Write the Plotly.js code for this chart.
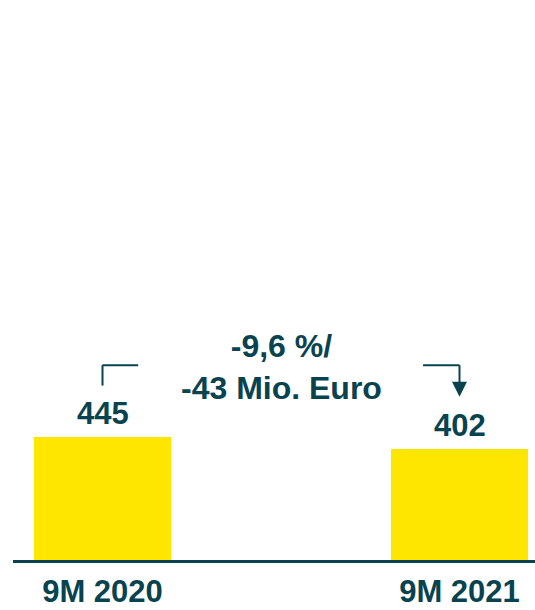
<!DOCTYPE html>
<html>
<head>
<meta charset="utf-8">
<script src="https://cdn.plot.ly/plotly-3.0.1.min.js"></script>
<style>
html,body{margin:0;padding:0;background:#fff;}
#chart{width:535px;height:610px;}
</style>
</head>
<body>
<div id="chart"></div>
<script>
const categories = ["9M 2020", "9M 2021"];
const values = [445, 402];
const valueLabels = ["445", "402"];
const changeText = ["-9,6 %/", "-43 Mio. Euro"];

const dark = "#08434f";
const yellow = "#FFE600";
const font = "Liberation Sans, Arial, sans-serif";

const xIdx = categories.map((c, i) => i);

// bracket levels (data units)
const bracketTop = 705;
const leftBracketBottom = 631;
const arrowTip = 591;

const trace = {
  type: "bar",
  x: xIdx,
  y: values,
  width: 0.384,
  marker: {color: yellow},
  hoverinfo: "skip"
};

const annotations = values.map((v, i) => ({
  x: xIdx[i], y: v, xref: "x", yref: "y",
  text: "<b>" + valueLabels[i] + "</b>",
  showarrow: false, yanchor: "bottom", yshift: 4,
  font: {family: font, size: 31, color: dark}
}));
annotations.push({
  x: 0.5, y: bracketTop, xref: "x", yref: "y",
  text: "<b>" + changeText.join("<br>") + "</b>",
  showarrow: false, yanchor: "middle", yshift: -2,
  font: {family: font, size: 32, color: dark}
});

const lineStyle = {color: dark, width: 2};
const shapes = [
  {type: "line", xref: "x", yref: "y", x0: xIdx[0], x1: xIdx[0], y0: leftBracketBottom, y1: bracketTop, line: lineStyle},
  {type: "line", xref: "x", yref: "y", x0: xIdx[0], x1: xIdx[0] + 0.1, y0: bracketTop, y1: bracketTop, line: lineStyle},
  {type: "line", xref: "x", yref: "y", x0: xIdx[1] - 0.102, x1: xIdx[1], y0: bracketTop, y1: bracketTop, line: lineStyle},
  {type: "line", xref: "x", yref: "y", x0: xIdx[1], x1: xIdx[1], y0: arrowTip + 50, y1: bracketTop, line: lineStyle},
  {type: "path", xref: "x", yref: "y", xsizemode: "pixel", ysizemode: "pixel",
   xanchor: xIdx[1], yanchor: arrowTip,
   path: "M -7.5 15 L 7.5 15 L 0 0 Z",
   fillcolor: dark, line: {width: 0}}
];

const layout = {
  width: 535, height: 610,
  margin: {l: 13, r: 0, t: 0, b: 50},
  paper_bgcolor: "#fff", plot_bgcolor: "#fff",
  showlegend: false,
  xaxis: {
    range: [-0.2507, 1.2115],
    tickmode: "array", tickvals: xIdx, ticktext: categories.map(c => "<b>" + c + "</b>"),
    showline: true, linecolor: dark, linewidth: 2.5,
    showgrid: false, zeroline: false, ticks: "",
    ticklabelstandoff: 2,
    tickfont: {family: font, size: 31, color: dark},
    fixedrange: true
  },
  yaxis: {
    range: [0, 2026], visible: false, showgrid: false, zeroline: false, fixedrange: true
  },
  annotations: annotations,
  shapes: shapes
};

Plotly.newPlot("chart", [trace], layout, {displayModeBar: false, staticPlot: true});
</script>
</body>
</html>
